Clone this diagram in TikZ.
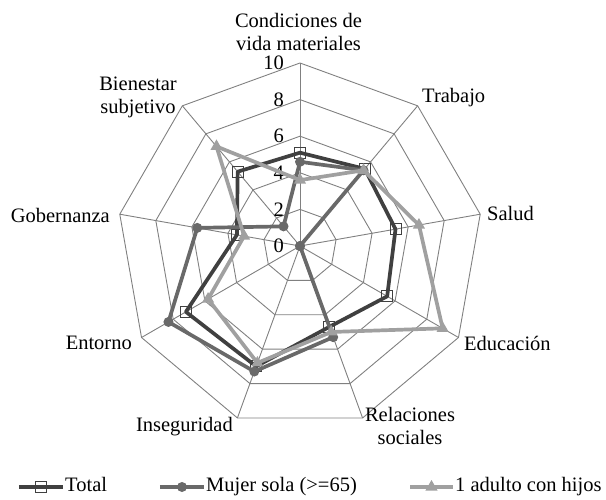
\documentclass[tikz,border=0pt]{standalone}
\usepackage{fontspec}
\setmainfont{Liberation Serif}
\usetikzlibrary{shapes.geometric}
\definecolor{gridgray}{RGB}{128,128,128}
\definecolor{totalgray}{RGB}{64,64,64}
\definecolor{mujergray}{RGB}{105,105,105}
\definecolor{adultogray}{RGB}{160,160,160}
\tikzset{
  rejilla/.style={gridgray, line width=0.9bp},
  serie/.style={line width=3.7bp, line join=round},
  eje/.style={font=\fontsize{20.5bp}{23bp}\selectfont, inner sep=2bp, align=center},
  cuadro/.style={draw=totalgray, line width=1bp, rectangle, minimum size=11bp, inner sep=0pt},
  punto/.style={fill=mujergray, circle, minimum size=10bp, inner sep=0pt},
  triang/.style={fill=adultogray, regular polygon, regular polygon sides=3, minimum size=14bp, inner sep=0pt}
}
\newcommand{\escala}{18.3}
\begin{document}
\begin{tikzpicture}[x=1bp,y=1bp]
				\useasboundingbox (-300,-254) rectangle (306,246);
				% rejilla
				\foreach \r in {2,4,6,8,10}
					\draw[rejilla] (90:{\r*\escala}) \foreach \a in {50,10,...,-230} {-- (\a:{\r*\escala})} -- cycle;
				\foreach \a in {90,50,...,-230}
					\draw[rejilla] (0,0) -- (\a:{10*\escala});
				\foreach \r in {0,2,...,10}
					\node[eje, anchor=east] (tick\r) at (-14,{\r*\escala}) {\r};
				% ejes
				\node[eje] (cond) at (-1.5,214.5) {Condiciones de\\vida materiales};
				\node[eje, anchor=west] (trabajo) at (120,148) {Trabajo};
				\node[eje, anchor=west] (salud) at (185,33) {Salud};
				\node[eje, anchor=west] (educ) at (162,-97) {Educación};
				\node[eje] (relac) at (110,-180) {Relaciones\\sociales};
				\node[eje, anchor=east] (insegur) at (-65,-181) {Inseguridad};
				\node[eje, anchor=east] (entorno) at (-166,-97) {Entorno};
				\node[eje, anchor=east] (gobern) at (-188,31) {Gobernanza};
				\node[eje] (bienestar) at (-162,148.5) {Bienestar\\subjetivo};
				% datos
				\foreach \v [count=\k] in {5.1,5.5,5.3,5.5,4.7,7.0,7.2,3.5,5.3}
					\coordinate (t\k) at ({130-40*\k}:{\v*\escala});
				\foreach \v [count=\k] in {4.6,5.4,0,0,5.3,7.3,8.3,5.7,1.4}
					\coordinate (m\k) at ({130-40*\k}:{\v*\escala});
				\foreach \v [count=\k] in {3.6,5.4,6.6,9.0,5.0,6.8,5.8,3.1,7.1}
					\coordinate (a\k) at ({130-40*\k}:{\v*\escala});
				% Total
				\draw[serie, totalgray] (t1) -- (t2) -- (t3) -- (t4) -- (t5) -- (t6) -- (t7) -- (t8) -- (t9) -- cycle;
				\foreach \k in {1,...,9}
					\node[cuadro] (ct\k) at (t\k) {};
				% Mujer sola
				\draw[serie, mujergray] (m1) -- (m2) -- (m3) -- (m4) -- (m5) -- (m6) -- (m7) -- (m8) -- (m9) -- cycle;
				\foreach \k in {1,...,9}
					\node[punto] (cm\k) at (m\k) {};
				% 1 adulto con hijos
				\draw[serie, adultogray] (a1) -- (a2) -- (a3) -- (a4) -- (a5) -- (a6) -- (a7) -- (a8) -- (a9) -- cycle;
				\foreach \k in {1,...,9}
					\node[triang] (ca\k) at (a\k) {};
				% leyenda
				\coordinate (lt1) at (-281,-241);
				\coordinate (lt2) at (-237,-241);
				\draw[serie, totalgray] (lt1) -- (lt2);
				\node[cuadro] (ltm) at (-259,-241) {};
				\node[eje, anchor=base west] (ltt) at (-237,-245) {Total};
				\coordinate (lm1) at (-140,-241);
				\coordinate (lm2) at (-96,-241);
				\draw[serie, mujergray] (lm1) -- (lm2);
				\node[punto] (lmm) at (-118,-241) {};
				\node[eje, anchor=base west] (lmt) at (-96,-245) {Mujer sola (>=65)};
				\coordinate (la1) at (110,-241);
				\coordinate (la2) at (153,-241);
				\draw[serie, adultogray] (la1) -- (la2);
				\node[triang] (lam) at (131.5,-241) {};
				\node[eje, anchor=base west] (lat) at (153,-245) {1 adulto con hijos};
			\end{tikzpicture}
\end{document}
